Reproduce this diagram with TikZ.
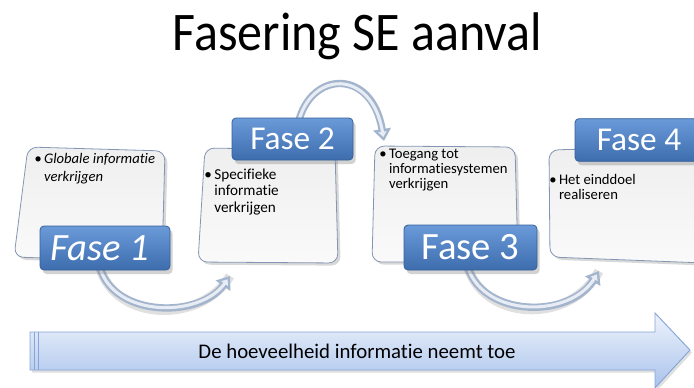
\documentclass[tikz,border=0pt]{standalone}
\usepackage{fontspec}
\setmainfont{Carlito}[Ligatures={NoCommon}]
\usetikzlibrary{arrows.meta,shadows}
\definecolor{faseTop}{HTML}{6A9AD8}
\definecolor{faseBot}{HTML}{3E6DAE}
\definecolor{faseEdge}{HTML}{36609A}
\definecolor{cardEdge}{HTML}{8496B4}
\definecolor{arrTop}{HTML}{EEF3FC}
\definecolor{arrBot}{HTML}{A9C3EC}
\definecolor{arrEdge}{HTML}{87A5D6}
\definecolor{curveA}{HTML}{A3B5CC}
\definecolor{curveB}{HTML}{E8EDF5}
\begin{document}
\begin{tikzpicture}[x=0.75pt,y=-0.75pt,
  fasebox/.style={draw=faseEdge, line width=0.6pt, rounded corners=3pt,
    top color=faseTop, bottom color=faseBot, text=white, inner sep=0pt,
    drop shadow={shadow xshift=2pt, shadow yshift=-3pt, opacity=0.35}},
  cardbox/.style={draw=cardEdge, line width=0.6pt, rounded corners=7pt,
    top color=gray!13, bottom color=gray!4,
    drop shadow={shadow xshift=2pt, shadow yshift=-2pt, opacity=0.3}},
  cardtext/.style={font=\fontsize{11}{11.6}\selectfont, anchor=base west, inner sep=0pt},
  tubeout/.style={draw=curveA, line width=5.5pt, -{Triangle[length=9pt, width=13pt]}},
  tubein/.style={draw=curveB, line width=2.3pt, shorten >=3pt, -{Triangle[length=4pt, width=6pt]}},
  tubeshadow/.style={draw=black, opacity=0.12, line width=7pt},
  bigarrow/.style={draw=arrEdge, line width=0.7pt, top color=arrTop, bottom color=arrBot,
    drop shadow={shadow xshift=1.5pt, shadow yshift=-2pt, opacity=0.25}}
]
\clip (0,0) rectangle (694,387);
\fill[white] (0,0) rectangle (694,387);

% title
\node[anchor=base, inner sep=0pt, font=\fontsize{40.8}{44}\selectfont] (title) at (357.5,50)
  {\scalebox{0.92}[1]{Fasering SE aanval}};

% connector coordinates
\coordinate (c1s) at (100,268);
\coordinate (c1e) at (230,276);
\coordinate (c2s) at (298,124);
\coordinate (c2e) at (384,141);
\coordinate (c3s) at (468,268);
\coordinate (c3e) at (599,271);

% curved arrows (shadows, outer, inner)
\begin{scope}[shift={(2,5)}]
  \draw[tubeshadow] (c1s) .. controls (115,318) and (200,318) .. (c1e);
  \draw[tubeshadow] (c3s) .. controls (485,318) and (570,318) .. (c3e);
\end{scope}
\draw[tubeout] (c1s) .. controls (115,318) and (200,318) .. (c1e);
\draw[tubein]  (c1s) .. controls (115,318) and (200,318) .. (c1e);
\draw[tubeout] (c2s) .. controls (310,70) and (372,68) .. (c2e);
\draw[tubein]  (c2s) .. controls (310,70) and (372,68) .. (c2e);
\draw[tubeout] (c3s) .. controls (485,318) and (570,318) .. (c3e);
\draw[tubein]  (c3s) .. controls (485,318) and (570,318) .. (c3e);

% big bottom arrow
\path[bigarrow] (30,332) -- (655,332) -- (655,313) -- (690,350) -- (655,388)
  -- (655,370) -- (30,370) -- cycle;
\draw[arrEdge, line width=0.6pt] (34,332) -- (34,370) (38,332) -- (38,370);
\node[anchor=base, inner sep=0pt, font=\fontsize{15.6}{17}\selectfont] (info) at (357,358)
  {De hoeveelheid informatie neemt toe};

% cards
\path[cardbox] (28,147) -- (165,151) -- (162,262) -- (14,257) -- cycle;
\path[cardbox] (205,148) -- (335,150) -- (338,263) -- (198,262) -- cycle;
\path[cardbox] (375,146) -- (515,147) -- (518,262) -- (372,262) -- cycle;
\path[cardbox] (549,150) -- (705,146) -- (705,263) -- (550,257) -- cycle;

% card texts
\node[cardtext, font=\fontsize{11}{13.5}\selectfont\itshape] (t1) at (34,163)
  {\begin{tabular}[t]{@{}l@{\,}l@{}}•&Globale informatie\\&verkrijgen\end{tabular}};
\node[cardtext, font=\fontsize{11.4}{12.4}\selectfont] (t2) at (204,179)
  {\begin{tabular}[t]{@{}l@{\,}l@{}}•&Specifieke\\&informatie\\&verkrijgen\end{tabular}};
\node[cardtext, font=\fontsize{11}{11.6}\selectfont] (t3) at (379,158)
  {\begin{tabular}[t]{@{}l@{\,}l@{}}•&Toegang tot\\&informatiesystemen\\&verkrijgen\end{tabular}};
\node[cardtext, font=\fontsize{11}{11.6}\selectfont] (t4) at (549,184)
  {\begin{tabular}[t]{@{}l@{\,}l@{}}•&Het einddoel\\&realiseren\end{tabular}};

% fase boxes
\node[fasebox, minimum width=97.5pt, minimum height=33pt,
  font=\fontsize{29}{30}\selectfont\itshape] (f1) at (105,248) {\hspace*{-8pt}Fase 1};
\node[fasebox, minimum width=90.75pt, minimum height=31.5pt,
  font=\fontsize{25}{26}\selectfont] (f2) at (292.5,139) {Fase 2};
\node[fasebox, minimum width=99.75pt, minimum height=33.75pt,
  font=\fontsize{29}{30}\selectfont] (f3) at (470.5,247.5) {Fase 3};
\node[fasebox, minimum width=96pt, minimum height=32pt,
  font=\fontsize{25}{26}\selectfont] (f4) at (639,140) {Fase 4};
\end{tikzpicture}
\end{document}
